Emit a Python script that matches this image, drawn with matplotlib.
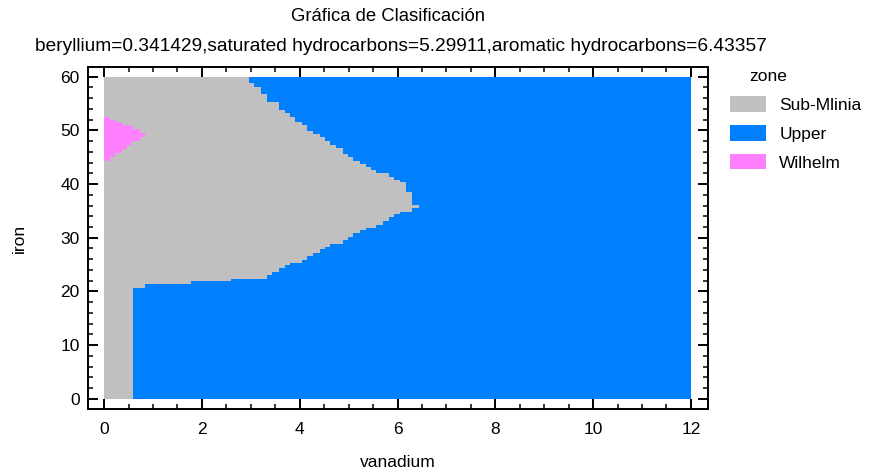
import matplotlib.pyplot as plt
from matplotlib.patches import Patch
from matplotlib.ticker import MultipleLocator
import numpy as np

plt.rcParams['font.family'] = ['Liberation Sans', 'DejaVu Sans']

zones = ['Sub-Mlinia', 'Upper', 'Wilhelm']
zone_colors = ['#C0C0C0', '#0080FF', '#FF80FF']

# iron row edges (top -> bottom) and vanadium where Sub-Mlinia gives way to Upper
row_edges = [60.0, 58.9, 58.1, 56.8, 55.3, 53.8, 53.2, 52.4, 51.6, 51.0,
             49.8, 49.3, 48.7, 48.0, 47.3, 46.7, 45.6, 45.0, 44.3, 43.7,
             43.2, 42.6, 42.1, 41.3, 40.8, 40.4, 38.6, 36.1, 35.6, 34.8,
             34.4, 33.9, 33.1, 32.4, 31.9, 31.4, 30.8, 30.1, 29.6, 28.8,
             28.3, 27.9, 27.2, 26.6, 25.8, 25.3, 24.9, 24.4, 23.6, 23.1,
             22.3, 21.9, 21.4, 20.6, 0.0]
upper_from = [2.96, 3.06, 3.20, 3.33, 3.57, 3.70, 3.80, 3.90, 4.04, 4.14,
              4.27, 4.41, 4.51, 4.62, 4.74, 4.88, 4.98, 5.09, 5.23, 5.35,
              5.45, 5.56, 5.82, 5.92, 6.06, 6.17, 6.29, 6.43, 6.29, 6.06,
              5.92, 5.82, 5.70, 5.56, 5.35, 5.23, 5.09, 4.98, 4.88, 4.62,
              4.51, 4.41, 4.27, 4.14, 4.04, 3.80, 3.70, 3.57, 3.43, 3.33,
              2.59, 1.77, 0.83, 0.59]

# Wilhelm wedge at the left edge
pink_edges = [52.4, 51.9, 51.5, 51.0, 50.3, 49.6, 48.8, 48.1, 47.3, 46.5,
              45.7, 45.0, 44.3]
pink_to = [0.12, 0.22, 0.36, 0.58, 0.73, 0.83, 0.73, 0.58, 0.46, 0.36,
           0.22, 0.12]

x_max = 12.0

fig = plt.figure(figsize=(8.71, 4.72), dpi=100)
ax = fig.add_axes([0.101, 0.1335, 0.7119, 0.7245])

edges = np.array(row_edges)
bottoms = edges[1:]
heights = edges[:-1] - edges[1:]
bx = np.array(upper_from)

ax.barh(bottoms, bx, height=heights, left=0, align='edge',
        color=zone_colors[0], linewidth=0, antialiased=False)
ax.barh(bottoms, x_max - bx, height=heights, left=bx, align='edge',
        color=zone_colors[1], linewidth=0, antialiased=False)

pe = np.array(pink_edges)
ax.barh(pe[1:], pink_to, height=pe[:-1] - pe[1:], left=0, align='edge',
        color=zone_colors[2], linewidth=0, antialiased=False)

ax.set_xlim(-0.33, 12.35)
ax.set_ylim(-1.9, 61.8)
ax.xaxis.set_major_locator(MultipleLocator(2))
ax.xaxis.set_minor_locator(MultipleLocator(0.5))
ax.yaxis.set_major_locator(MultipleLocator(10))
ax.yaxis.set_minor_locator(MultipleLocator(2))
ax.tick_params(which='both', direction='in', top=True, right=True,
               labelsize=12.5)
ax.tick_params(axis='x', which='both', pad=9.5)
ax.tick_params(axis='y', which='both', pad=6)
ax.tick_params(which='major', length=7, width=1.4)
ax.tick_params(which='minor', length=3.5, width=1.1)
for s in ax.spines.values():
    s.set_linewidth(1.4)

ax.set_xlabel('vanadium', fontsize=12.5, labelpad=13)
ax.set_ylabel('iron', fontsize=12.5, labelpad=24)

fig.text(0.445, 0.965, 'Gráfica de Clasificación', ha='center', va='center',
         fontsize=13.3)
fig.text(0.46, 0.902,
         'beryllium=0.341429,saturated hydrocarbons=5.29911,aromatic hydrocarbons=6.43357',
         ha='center', va='center', fontsize=13.8)

handles = [Patch(facecolor=c, edgecolor='none') for c in zone_colors]
leg = ax.legend(handles, zones, loc='upper left',
                bbox_to_anchor=(1.024, 0.935), frameon=False, fontsize=12.5,
                handlelength=2.1, handleheight=1.0,
                labelspacing=0.7, handletextpad=0.75, borderaxespad=0)
fig.text(0.86, 0.837, 'zone', ha='left', va='center', fontsize=12.5)

fig.savefig('out.png', dpi=100)
